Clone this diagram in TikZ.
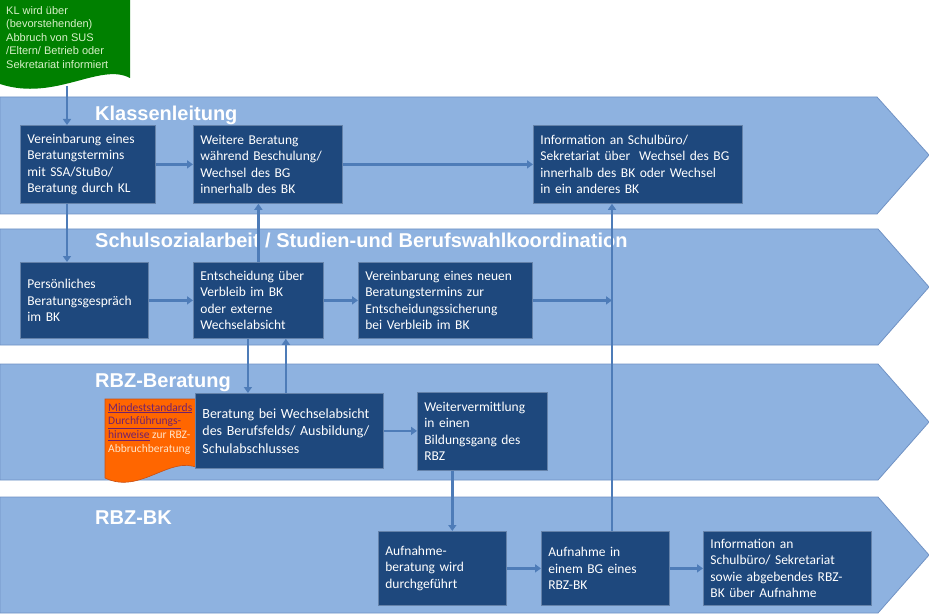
\documentclass[tikz,border=0pt]{standalone}
\usepackage{fontspec}
\setmainfont{Carlito}
\newfontfamily\arialf{Liberation Sans}
\usetikzlibrary{arrows.meta,calc}
\definecolor{band}{RGB}{142,178,224}
\definecolor{bandline}{RGB}{112,146,196}
\definecolor{boxfill}{RGB}{30,72,125}
\definecolor{boxline}{RGB}{100,130,170}
\definecolor{arrc}{RGB}{78,124,184}
\definecolor{grn}{RGB}{0,128,0}
\definecolor{grntext}{RGB}{215,240,200}
\definecolor{orng}{RGB}{255,102,0}
\definecolor{orngline}{RGB}{200,80,20}
\definecolor{lnk}{RGB}{112,32,110}
\definecolor{orgtext}{RGB}{255,228,200}
\begin{document}
\begin{tikzpicture}[x=1bp,y=-1bp,
 bandst/.style={fill=band,draw=bandline,line width=0.8bp},
 ttl/.style={anchor=base west,text=white,font=\arialf\bfseries\fontsize{20bp}{24bp}\selectfont,inner sep=0pt},
 boxst/.style={anchor=north west,fill=boxfill,draw=boxline,line width=0.8bp,text=white,align=left,inner xsep=7bp,inner ysep=2bp,font=\fontsize{13.5bp}{16.5bp}\selectfont},
 arr/.style={draw=arrc,line width=2.4bp,-{Triangle[length=6bp,width=8bp]}}
]
\useasboundingbox (0,0) rectangle (929,615);
\fill[white] (0,0) rectangle (929,615);
% bands
\path[bandst] (0,97) -- (877,97) -- (929,155) -- (877,214) -- (0,214) -- cycle;
\path[bandst] (0,229) -- (878,229) -- (929,287) -- (878,345) -- (0,345) -- cycle;
\path[bandst] (0,364) -- (878,364) -- (929,422) -- (878,480) -- (0,480) -- cycle;
\path[bandst] (0,497) -- (878,497) -- (929,555) -- (878,613) -- (0,613) -- cycle;
% titles
\node[ttl] (t1) at (95,121) {Klassenleitung};
\node[ttl] (t2) at (95,248) {Schulsozialarbeit / Studien-und Berufswahlkoordination};
\node[ttl] (t3) at (95,387) {RBZ-Beratung};
\node[ttl] (t4) at (95,524) {RBZ-BK};
% green document
\fill[grn] (0,0) -- (130,0) -- (130,78) .. controls (100,62) and (55,102) .. (0,84) -- cycle;
\node[anchor=north west,inner sep=0pt,align=left,text=grntext,font=\arialf\fontsize{11bp}{13.5bp}\selectfont] (g) at (6,6) {KL wird über\\(bevorstehenden)\\Abbruch von SUS\\/Eltern/ Betrieb oder\\Sekretariat informiert};
\coordinate (gbot) at (67,86);
% orange document
\filldraw[fill=orng,draw=orngline,line width=0.6bp] (105,399) -- (198,399) -- (198,468) .. controls (170,455) and (140,495) .. (105,478) -- cycle;
\node[anchor=north west,inner sep=0pt,align=left,text=orgtext,font=\fontsize{11.5bp}{13.7bp}\selectfont] (o) at (108,403) {{\color{lnk}\underline{Mindeststandards}}\\{\color{lnk}\underline{Durchführungs-}}\\{\color{lnk}\underline{hinweise}} zur RBZ-\\Abbruchberatung};
% boxes
\node[boxst,minimum width=135bp,minimum height=78bp,text width=121bp] (b1) at (20,125) {Vereinbarung eines\\Beratungstermins\\mit SSA/StuBo/\\Beratung durch KL};
\node[boxst,minimum width=149bp,minimum height=78bp,text width=135bp] (b2) at (193,125) {Weitere Beratung\\während Beschulung/\\Wechsel des BG\\innerhalb des BK};
\node[boxst,minimum width=209bp,minimum height=78bp,text width=195bp] (b3) at (533,125) {Information an Schulbüro/\\Sekretariat über\ \ Wechsel des BG\\innerhalb des BK oder Wechsel\\in ein anderes BK};
\node[boxst,minimum width=128bp,minimum height=76bp,text width=114bp] (c1) at (20,262) {Persönliches\\Beratungsgespräch\\im BK};
\node[boxst,minimum width=130bp,minimum height=76bp,text width=116bp] (c2) at (193,262) {Entscheidung über\\Verbleib im BK\\oder externe\\Wechselabsicht};
\node[boxst,minimum width=174bp,minimum height=76bp,text width=160bp] (c3) at (358,262) {Vereinbarung eines neuen\\Beratungstermins zur\\Entscheidungssicherung\\bei Verbleib im BK};
\node[boxst,minimum width=188bp,minimum height=75bp,text width=174bp,font=\fontsize{14bp}{17.5bp}\selectfont] (d1) at (195,393) {Beratung bei Wechselabsicht\\des Berufsfelds/ Ausbildung/\\Schulabschlusses};
\node[boxst,minimum width=130bp,minimum height=78bp,text width=116bp] (d2) at (417,392) {Weitervermittlung\\in einen\\Bildungsgang des\\RBZ};
\node[boxst,minimum width=128bp,minimum height=74bp,text width=114bp] (e1) at (378,531) {Aufnahme-\\beratung wird\\durchgeführt};
\node[boxst,minimum width=128bp,minimum height=74bp,text width=114bp] (e2) at (541,531) {Aufnahme in\\einem BG eines\\RBZ-BK};
\node[boxst,minimum width=168bp,minimum height=74bp,text width=154bp] (e3) at (703,531) {Information an\\Schulbüro/ Sekretariat\\sowie abgebendes RBZ-\\BK über Aufnahme};
% helper coordinates
\coordinate (vx) at (612,0);
\coordinate (dn) at ($(c2.south west)!0.42!(c2.south east)$);
\coordinate (upx) at ($(c2.south west)!0.71!(c2.south east)$);
\coordinate (dd) at ($(d2.south west)!0.27!(d2.south east)$);
% connectors
\draw[arr] (gbot) -- (gbot |- b1.north);
\draw[arr] (b1.east) -- (b1.east -| b2.west);
\draw[arr] (b2.east) -- (b2.east -| b3.west);
\draw[arr] (b1.south -| gbot) -- (c1.north -| gbot);
\draw[arr] (c2.north) -- (c2.north |- b2.south);
\draw[arr] (c1.east) -- (c1.east -| c2.west);
\draw[arr] (c2.east) -- (c2.east -| c3.west);
\draw[arr] (c3.east) -- (c3.east -| vx);
\draw[arr] (e2.north -| vx) -- (b3.south -| vx);
\draw[arr] (dn) -- (dn |- d1.north);
\draw[arr] (upx |- d1.north) -- (upx);
\draw[arr] (d1.east) -- (d1.east -| d2.west);
\draw[arr] (dd) -- (dd |- e1.north);
\draw[arr] (e1.east) -- (e1.east -| e2.west);
\draw[arr] (e2.east) -- (e2.east -| e3.west);
\end{tikzpicture}
\end{document}
